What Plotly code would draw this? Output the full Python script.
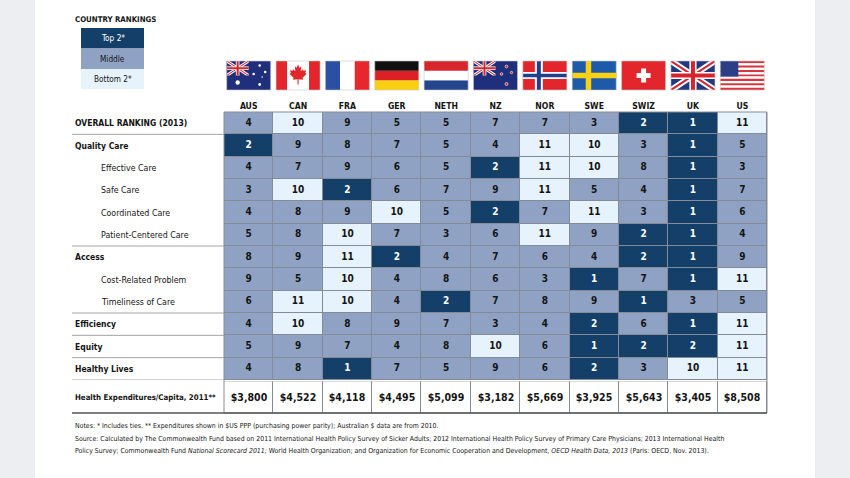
import math
import plotly.graph_objects as go

countries = ["AUS", "CAN", "FRA", "GER", "NETH", "NZ", "NOR", "SWE", "SWIZ", "UK", "US"]

row_labels = ["OVERALL RANKING (2013)", "Quality Care", "Effective Care", "Safe Care",
              "Coordinated Care", "Patient-Centered Care", "Access", "Cost-Related Problem",
              "Timeliness of Care", "Efficiency", "Equity", "Healthy Lives"]
row_is_sub = [False, False, True, True, True, True, False, True, True, False, False, False]

ranks = [
    [4, 10, 9, 5, 5, 7, 7, 3, 2, 1, 11],
    [2, 9, 8, 7, 5, 4, 11, 10, 3, 1, 5],
    [4, 7, 9, 6, 5, 2, 11, 10, 8, 1, 3],
    [3, 10, 2, 6, 7, 9, 11, 5, 4, 1, 7],
    [4, 8, 9, 10, 5, 2, 7, 11, 3, 1, 6],
    [5, 8, 10, 7, 3, 6, 11, 9, 2, 1, 4],
    [8, 9, 11, 2, 4, 7, 6, 4, 2, 1, 9],
    [9, 5, 10, 4, 8, 6, 3, 1, 7, 1, 11],
    [6, 11, 10, 4, 2, 7, 8, 9, 1, 3, 5],
    [4, 10, 8, 9, 7, 3, 4, 2, 6, 1, 11],
    [5, 9, 7, 4, 8, 10, 6, 1, 2, 2, 11],
    [4, 8, 1, 7, 5, 9, 6, 2, 3, 10, 11],
]

# T = top 2*, M = middle, B = bottom 2* (as shaded in the source)
tiers = [
    "MBMMMMMMTTB",
    "TMMMMMBBMTM",
    "MMMMMTBBMTM",
    "MBTMMMBMMTM",
    "MMMBMTMBMTM",
    "MMBMMMBMTTM",
    "MMBTMMMMTTM",
    "MMBMMMMTMTB",
    "MBBMTMMMTMM",
    "MBMMMMMTMTB",
    "MMMMMBMTTTB",
    "MMTMMMMTMBB",
]

spend_label = "Health Expenditures/Capita, 2011**"
spend = ["$3,800", "$4,522", "$4,118", "$4,495", "$5,099", "$3,182",
         "$5,669", "$3,925", "$5,643", "$3,405", "$8,508"]

legend_items = ["Top 2*", "Middle", "Bottom 2*"]

FONT = "DejaVu Sans Condensed, Liberation Sans Narrow, sans-serif"
DARK = "#143f69"
MID = "#8fa2c3"
LIGHT = "#e7f3fc"
GRID = "#858b96"
INK = "#141414"

tier_code = {"T": 0, "M": 1, "B": 2}
z = [[tier_code[c] for c in row] for row in tiers]
cscale = [[0, DARK], [1 / 3, MID], [2 / 3, LIGHT], [1, "#ffffff"]]

# plot area in pixels
L, R, T, B = 224, 767, 112, 413
COLW = (R - L) / len(countries)


def px_x(p):
    return (p - L) / (R - L)


def px_y(p):
    return (B - p) / (B - T)


xs = list(range(len(countries)))
fig = go.Figure()
fig.add_trace(go.Heatmap(
    x=xs, y=list(range(len(row_labels))), z=z,
    colorscale=cscale, zmin=0, zmax=3, showscale=False,
    xgap=1, ygap=1, hoverinfo="skip",
))
# rank numbers, white on the dark cells
cx, cy, ct, cc = [], [], [], []
for r, (row, trow) in enumerate(zip(ranks, tiers)):
    for c, (v, t) in enumerate(zip(row, trow)):
        cx.append(c)
        cy.append(r)
        ct.append("<b>%d</b>" % v)
        cc.append("#ffffff" if t == "T" else INK)
fig.add_trace(go.Scatter(
    x=cx, y=cy, text=ct, mode="text", textposition="middle center",
    textfont=dict(family=FONT, size=10, color=cc), hoverinfo="skip",
))
fig.add_trace(go.Heatmap(
    x=xs, y=[0], z=[[3] * len(countries)],
    text=[spend], texttemplate="<b>%{text}</b>",
    textfont=dict(family=FONT, size=10.5, color=INK),
    colorscale=cscale, zmin=0, zmax=3, showscale=False,
    xgap=1, ygap=0, yaxis="y2", hoverinfo="skip",
))

shapes = []
annotations = []

# gray photo edges outside the white page
for x0, x1 in [(-5, 35), (815, 860)]:
    shapes.append(dict(type="rect", xref="paper", yref="paper",
                       x0=px_x(x0), x1=px_x(x1), y0=px_y(490), y1=px_y(-10),
                       fillcolor="#eceef1", line_width=0, layer="below"))

# outer border of table
shapes.append(dict(type="rect", xref="paper", yref="paper", x0=0, x1=1, y0=0, y1=1,
                   line=dict(color=GRID, width=1)))
# row separators in label column
for r in [0, 5, 8, 9, 10, 11]:
    shapes.append(dict(type="line", xref="paper", yref="y", x0=px_x(72), x1=0,
                       y0=r + 0.5, y1=r + 0.5, line=dict(color="#a3a3a3", width=1)))
# bottom rule
shapes.append(dict(type="line", xref="paper", yref="paper", x0=px_x(72), x1=1,
                   y0=0, y1=0, line=dict(color="#555555", width=1.6)))

# row labels
for r, (lab, sub) in enumerate(zip(row_labels, row_is_sub)):
    annotations.append(dict(
        x=px_x(99 if sub else 73), y=r, xref="paper", yref="y",
        text=lab if sub else "<b>%s</b>" % lab, showarrow=False,
        xanchor="left", yanchor="middle",
        font=dict(family=FONT, size=8.8 if sub else 8.5, color=INK)))
annotations.append(dict(
    x=px_x(73), y=0, xref="paper", yref="y2", text="<b>%s</b>" % spend_label,
    showarrow=False, xanchor="left", yanchor="middle",
    font=dict(family=FONT, size=7.8, color=INK)))

# legend box
annotations.append(dict(x=px_x(73), y=px_y(19), xref="paper", yref="paper",
                        text="<b>COUNTRY RANKINGS</b>", showarrow=False,
                        xanchor="left", yanchor="middle",
                        font=dict(family=FONT, size=7.8, color=INK)))
box_y = [28, 48.5, 69, 89]
for k, (lab, col) in enumerate(zip(legend_items, [DARK, MID, LIGHT])):
    shapes.append(dict(type="rect", xref="paper", yref="paper",
                       x0=px_x(81), x1=px_x(144), y0=px_y(box_y[k + 1]), y1=px_y(box_y[k]),
                       fillcolor=col, line_width=0))
    annotations.append(dict(x=px_x(112.5), y=px_y((box_y[k] + box_y[k + 1]) / 2),
                            xref="paper", yref="paper", text=lab, showarrow=False,
                            xanchor="center", yanchor="middle",
                            font=dict(family=FONT, size=8.2,
                                      color="#ffffff" if k == 0 else INK)))

# notes
notes = [
    "Notes: * Includes ties. ** Expenditures shown in $US PPP (purchasing power parity); Australian $ data are from 2010.",
    "Source: Calculated by The Commonwealth Fund based on 2011 International Health Policy Survey of Sicker Adults; "
    "2012 International Health Policy Survey of Primary Care Physicians; 2013 International Health",
    "Policy Survey; Commonwealth Fund <i>National Scorecard 2011;</i> World Health Organization; and Organization for "
    "Economic Cooperation and Development, <i>OECD Health Data, 2013</i> (Paris: OECD, Nov. 2013).",
]
for k, line in enumerate(notes):
    annotations.append(dict(x=px_x(73), y=px_y(426 + k * 12.7), xref="paper", yref="paper",
                            text=line, showarrow=False, xanchor="left", yanchor="middle",
                            font=dict(family=FONT, size=6.9, color=INK)))

# ---- flags (drawn with shapes, local pixel coords: 44 x 29, origin bottom-left)
FW, FH = 44, 29
FTOP, FBOT = 61, 90


def fx(i, lx):
    return i - FW / 2 / COLW + lx / COLW


def fy(ly):
    return px_y(FBOT - ly)


def frect(i, x0, x1, y0, y1, color):
    shapes.append(dict(type="rect", xref="x", yref="paper", x0=fx(i, x0), x1=fx(i, x1),
                       y0=fy(y0), y1=fy(y1), fillcolor=color, line_width=0))


def fpath(i, pts, color):
    d = "M" + " L".join("%.4f,%.4f" % (fx(i, a), fy(b)) for a, b in pts) + " Z"
    shapes.append(dict(type="path", xref="x", yref="paper", path=d,
                       fillcolor=color, line_width=0))


def fcircle(i, cx, cy, r, color, edge=None):
    shapes.append(dict(type="circle", xref="x", yref="paper",
                       x0=fx(i, cx - r), x1=fx(i, cx + r), y0=fy(cy - r), y1=fy(cy + r),
                       fillcolor=color,
                       line=dict(color=edge or color, width=0.6 if edge else 0)))


def diag_band(i, X0, X1, Y0, Y1, d, color, anti=False):
    W, H = X1 - X0, Y1 - Y0
    k = d * math.hypot(W, H) / W
    pts = [(0, 0), (0, k), (W - k * W / H, H), (W, H), (W, H - k), (k * W / H, 0)]
    if anti:
        pts = [(a, H - b) for a, b in pts]
    fpath(i, [(X0 + a, Y0 + b) for a, b in pts], color)


def union_jack(i, X0, X1, Y0, Y1, s, blue):
    frect(i, X0, X1, Y0, Y1, blue)
    for anti in (False, True):
        diag_band(i, X0, X1, Y0, Y1, 3.0 * s, "#ffffff", anti)
    for anti in (False, True):
        diag_band(i, X0, X1, Y0, Y1, 1.0 * s, "#d7232b", anti)
    cx, cy = (X0 + X1) / 2, (Y0 + Y1) / 2
    frect(i, cx - 3.6 * s, cx + 3.6 * s, Y0, Y1, "#ffffff")
    frect(i, X0, X1, cy - 3.6 * s, cy + 3.6 * s, "#ffffff")
    frect(i, cx - 2.0 * s, cx + 2.0 * s, Y0, Y1, "#d7232b")
    frect(i, X0, X1, cy - 2.0 * s, cy + 2.0 * s, "#d7232b")


def flag_aus(i):
    frect(i, 0, FW, 0, FH, "#1f2f7c")
    union_jack(i, 0, FW / 2, FH / 2, FH, 0.5, "#1f2f7c")
    fcircle(i, 11, 7.5, 2.2, "#ffffff")
    for cx, cy, r in [(33, 24.5, 1.3), (27, 16, 1.3), (38.5, 18, 1.3), (33, 5.5, 1.4), (35.5, 13, 0.8)]:
        fcircle(i, cx, cy, r, "#ffffff")


def flag_nz(i):
    frect(i, 0, FW, 0, FH, "#1f2f7c")
    union_jack(i, 0, FW / 2, FH / 2, FH, 0.5, "#1f2f7c")
    for cx, cy, r in [(33, 23.5, 1.4), (28, 16, 1.3), (38, 17.5, 1.2), (33, 6, 1.5)]:
        fcircle(i, cx, cy, r, "#d7232b", "#ffffff")


def flag_can(i):
    frect(i, 0, FW, 0, FH, "#ffffff")
    frect(i, 0, 11, 0, FH, "#e2262b")
    frect(i, 33, FW, 0, FH, "#e2262b")
    leaf = [(0, 1), (0.15, 0.7), (0.35, 0.8), (0.3, 0.35), (0.55, 0.55), (0.6, 0.4), (0.9, 0.45),
            (0.8, 0.2), (0.95, 0.1), (0.5, -0.25), (0.55, -0.45), (0.06, -0.4), (0.06, -0.9),
            (-0.06, -0.9), (-0.06, -0.4), (-0.55, -0.45), (-0.5, -0.25), (-0.95, 0.1),
            (-0.8, 0.2), (-0.9, 0.45), (-0.6, 0.4), (-0.55, 0.55), (-0.3, 0.35),
            (-0.35, 0.8), (-0.15, 0.7)]
    fpath(i, [(22 + 9 * a, 15 + 10.5 * b) for a, b in leaf], "#e2262b")


def flag_fra(i):
    for k, c in enumerate(["#2b4fa2", "#ffffff", "#e8272d"]):
        frect(i, k * FW / 3, (k + 1) * FW / 3, 0, FH, c)


def flag_ger(i):
    for k, c in enumerate(["#f9cf0f", "#dd1f26", "#111111"]):
        frect(i, 0, FW, k * FH / 3, (k + 1) * FH / 3, c)


def flag_neth(i):
    for k, c in enumerate(["#25468f", "#ffffff", "#d9262c"]):
        frect(i, 0, FW, k * FH / 3, (k + 1) * FH / 3, c)


def flag_nor(i):
    frect(i, 0, FW, 0, FH, "#e2262b")
    frect(i, 12, 20, 0, FH, "#ffffff")
    frect(i, 0, FW, 10.9, 18.1, "#ffffff")
    frect(i, 14, 18, 0, FH, "#213f8c")
    frect(i, 0, FW, 12.7, 16.3, "#213f8c")


def flag_swe(i):
    frect(i, 0, FW, 0, FH, "#1d5ba8")
    frect(i, 13.5, 19, 0, FH, "#f7d117")
    frect(i, 0, FW, 11.8, 17.2, "#f7d117")


def flag_swiz(i):
    frect(i, 0, FW, 0, FH, "#e2262b")
    frect(i, 19.5, 24.5, 7.5, 21.5, "#ffffff")
    frect(i, 15, 29, 12, 17, "#ffffff")


def flag_uk(i):
    union_jack(i, 0, FW, 0, FH, 1.0, "#21397f")


def flag_us(i):
    h = FH / 13
    for k in range(13):
        frect(i, 0, FW, FH - (k + 1) * h, FH - k * h, "#d9373d" if k % 2 == 0 else "#ffffff")
    frect(i, 0, 18, FH - 7 * h, FH, "#2c3f86")


flag_draw = [flag_aus, flag_can, flag_fra, flag_ger, flag_neth, flag_nz,
             flag_nor, flag_swe, flag_swiz, flag_uk, flag_us]
for i, draw in enumerate(flag_draw):
    draw(i)
    shapes.append(dict(type="rect", xref="x", yref="paper", x0=fx(i, 0), x1=fx(i, FW),
                       y0=fy(0), y1=fy(FH), line=dict(color="#c8c8c8", width=0.6)))

fig.update_layout(
    width=850, height=478,
    margin=dict(l=L, r=850 - R, t=T, b=478 - B),
    paper_bgcolor="#ffffff", plot_bgcolor=GRID,
    font=dict(family=FONT, color=INK),
    xaxis=dict(range=[-0.5, len(countries) - 0.5], side="top", anchor="y",
               tickvals=xs, ticktext=countries,
               tickfont=dict(family=FONT, size=8.6, weight="bold", color=INK),
               showgrid=False, zeroline=False, ticks="", fixedrange=True),
    yaxis=dict(domain=[px_y(380), 1], range=[len(row_labels) - 0.5, -0.5],
               visible=False, fixedrange=True),
    yaxis2=dict(domain=[0, px_y(381.2)], range=[-0.5, 0.5], visible=False, fixedrange=True),
    shapes=shapes, annotations=annotations, showlegend=False,
)

# page body has a default 8px margin; drop it so the figure sits at the window corner
fig.write_html("out.html", config={"displayModeBar": False},
               post_script="document.body.style.margin='0';")
